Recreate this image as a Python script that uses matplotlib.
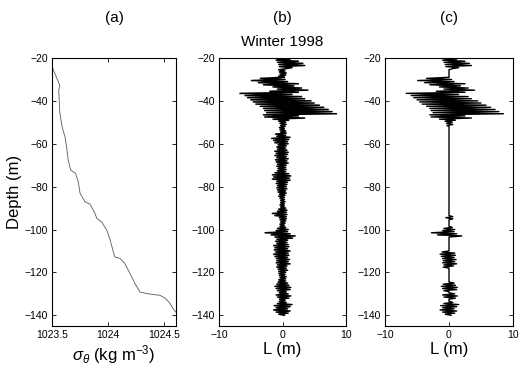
import numpy as np
import matplotlib
matplotlib.use("Agg")
import matplotlib.pyplot as plt

plt.rcParams['font.family'] = ['Liberation Sans', 'DejaVu Sans']
plt.rcParams['mathtext.fontset'] = 'custom'
plt.rcParams['mathtext.rm'] = 'Liberation Sans'
plt.rcParams['mathtext.it'] = 'Liberation Sans:italic'

# panel (a): density profile
sigma_depth = [-24, -31, -33, -35, -45.7, -52, -56.8, -61.4, -67.7, -72.3, -73.8, -77.8,
               -83, -87.1, -88.2, -92.5, -94.8, -96.5, -100.4, -105, -112.8, -113.5,
               -115.8, -120.5, -125.1, -129.2, -130, -130.7, -132, -134.5, -136.9, -138.5]
sigma_val = [1023.50, 1023.556, 1023.57, 1023.56, 1023.57, 1023.59, 1023.616, 1023.63,
             1023.645, 1023.667, 1023.71, 1023.735, 1023.75, 1023.795, 1023.84, 1023.884,
             1023.90, 1023.944, 1023.99, 1024.02, 1024.06, 1024.107, 1024.15, 1024.196,
             1024.24, 1024.286, 1024.36, 1024.464, 1024.51, 1024.554, 1024.58, 1024.607]

# panel (b): Thorpe displacements every 0.5 m from -20 to -140 m
L_depth = list(np.arange(-20, -140.01, -0.5))
L_vals = [
    -1.8, 1.2, -1.0, 2.5, -0.8, 3.2, -0.6, 3.5, -0.5, 1.5,
    0.5, -0.6, 0.4, -0.5, 0.6, -0.4, 0.5, -0.6, 0.3, -3.5,
    0.4, -4.9, 0.8, -3.8, 2.5, -3.0, 1.8, -1.5, 3.0, -0.8,
    4.0, -2.0, 2.5, -6.7, 1.5, -5.9, 3.0, -5.5, 3.5, -5.0,
    4.5, -4.6, 5.0, -4.2, 5.8, -3.5, 6.5, -3.0, 7.2, -2.8,
    7.8, -2.5, 8.5, -3.0, 2.5, -2.8, 3.5, -1.5, 1.0, -0.6,
    0.5, -0.4, 0.6, -0.3, 0.4, -0.5, 0.3, -0.4, 0.5, -0.3,
    0.6, -1.1, 0.5, -0.9, 1.2, -1.7, 1.0, -1.4, 0.8, -1.2,
    0.9, -0.7, 0.6, -0.9, 0.5, -0.8, 0.7, -1.2, 0.9, -1.0,
    0.8, -1.2, 0.6, -0.9, 0.9, -1.1, 0.7, -1.0, 0.9, -0.8,
    0.6, -0.9, 0.5, -0.7, 0.6, -0.8, 0.5, -1.2, 1.0, -1.6,
    1.3, -1.4, 1.1, -1.6, 1.2, -0.9, 0.8, -1.0, 0.7, -0.8,
    0.6, -0.9, 0.7, -0.8, 0.5, -0.7, 0.6, -0.5, 0.4, -0.6,
    0.3, -0.4, 0.3, -0.3, 0.4, -0.3, 0.3, -0.4, 0.3, -0.3,
    0.5, -0.6, 0.7, -0.8, 0.6, -1.6, 0.7, -1.2, 0.6, -0.5,
    0.6, -0.4, 0.5, -0.3, 0.4, -0.4, 0.3, -0.4, 0.5, -0.8,
    0.9, -1.0, 0.8, -2.75, 1.2, -1.8, 2.0, -1.2, 1.6, -0.9,
    0.8, -1.1, 0.7, -0.9, 0.9, -1.4, 1.0, -1.2, 0.8, -1.3,
    1.2, -1.1, 0.9, -1.4, 1.0, -1.2, 0.8, -1.0, 1.1, -0.9,
    0.9, -1.0, 1.2, -0.8, 0.7, -0.9, 0.6, -0.7, 0.8, -0.6,
    0.5, -0.6, 0.4, -0.5, 0.6, -0.4, 0.5, -0.6, 0.5, -0.7,
    0.8, -0.9, 1.0, -1.2, 1.3, -1.0, 1.2, -0.8, 0.6, -0.5,
    0.9, -1.0, 1.3, -0.8, 1.0, -0.5, 0.4, -0.5, 0.6, -0.8,
    1.5, -1.3, 1.2, -1.0, 0.8, -1.4, 1.2, -1.0, 0.9, -0.6,
    0.3]

# panel (c): depth intervals where overturns are kept
keep_top = [-20, -29.2, -93.8, -99, -110.5, -125, -130, -134]
keep_bot = [-25, -51.5, -95.2, -103, -117.5, -128.5, -132, -140]

d = np.array(L_depth)
L = np.array(L_vals)
mask = np.zeros(len(d), dtype=bool)
for t, b in zip(keep_top, keep_bot):
    mask |= (d <= t) & (d >= b)
L_c = np.where(mask, L, 0.0)

fig = plt.figure(figsize=(5.21, 3.70), dpi=100)
ax1 = fig.add_axes([52/521, 44/370, 124/521, 268/370])
ax2 = fig.add_axes([219/521, 44/370, 127/521, 268/370])
ax3 = fig.add_axes([385/521, 44/370, 128/521, 268/370])

ax1.plot(sigma_val, sigma_depth, color='0.35', lw=0.6)
ax2.plot(L, d, color='k', lw=1.1)
ax3.plot(L_c, d, color='k', lw=1.0)

ax1.set_xlim(1023.5, 1024.607)
ax1.set_xticks([1023.5, 1024, 1024.5])
ax1.set_xticklabels(['1023.5', '1024', '1024.5'])
ax1.set_ylabel('Depth (m)', fontsize=12, labelpad=2)
ax1.set_xlabel(r'$\sigma_\theta$ (kg m$^{-3}$)', fontsize=12, labelpad=2)

for ax in (ax2, ax3):
    ax.set_xlim(-10, 10)
    ax.set_xticks([-10, 0, 10])
    ax.set_xlabel('L (m)', fontsize=12, labelpad=1)

for ax, lab in zip((ax1, ax2, ax3), ['(a)', '(b)', '(c)']):
    ax.set_ylim(-145, -20)
    ax.set_yticks([-20, -40, -60, -80, -100, -120, -140])
    ax.tick_params(direction='in', length=3, width=0.6, labelsize=7.5,
                   top=True, right=True, pad=3)
    for s in ax.spines.values():
        s.set_linewidth(0.8)
    ax.text(0.5, 1.0 + 40/268, lab, transform=ax.transAxes, ha='center',
            va='center', fontsize=11)

ax2.set_title('Winter 1998', fontsize=11, pad=9)

plt.savefig('out.png', dpi=100)
